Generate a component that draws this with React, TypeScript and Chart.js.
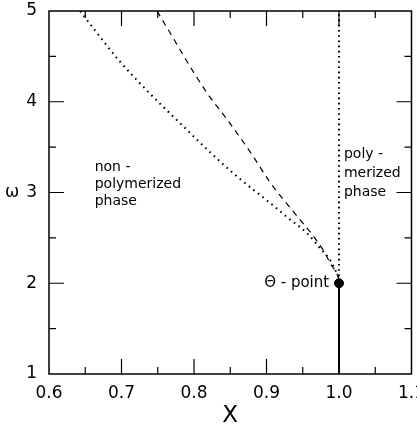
import React, { useEffect, useRef } from "react";
import { Chart, registerables } from "chart.js";

Chart.register(...registerables);

// ---- data ----
const xTicks = [0.6, 0.7, 0.8, 0.9, 1.0, 1.1];
const yTicks = [1, 2, 3, 4, 5];

// dotted boundary curve (x, omega)
const dottedX = [0.643, 0.666, 0.696, 0.738, 0.789, 0.82, 0.861, 0.898, 0.929, 0.956, 0.974, 0.988, 0.997, 1.0];
const dottedY = [5.0, 4.76, 4.46, 4.1, 3.7, 3.46, 3.165, 2.93, 2.725, 2.55, 2.385, 2.25, 2.11, 2.05];

// dashed curve
const dashedX = [0.749, 0.816, 0.847, 0.879, 0.906, 0.939, 0.966, 0.98, 0.988, 0.996, 1.0];
const dashedY = [5.0, 4.12, 3.79, 3.43, 3.1, 2.77, 2.505, 2.34, 2.22, 2.12, 2.05];

// vertical dotted phase boundary at x = 1
const vDotX = [1.0, 1.0];
const vDotY = [2.08, 5.0];

// solid line below theta point
const solidX = [1.0, 1.0];
const solidY = [1.0, 2.0];

// theta point
const thetaX = [1.0];
const thetaY = [2.0];

// annotation labels (data coordinates)
const labelTexts = ["non -", "polymerized", "phase", "poly -", "merized", "phase", "\u0398 - point"];
const labelX = [0.663, 0.663, 0.663, 1.0068, 1.0068, 1.0068, 0.9864];
const labelY = [3.275, 3.09, 2.9, 3.418, 3.21, 3.0, 2.0];
const labelAlign = ["left", "left", "left", "left", "left", "left", "right"];

const toPts = (xs: number[], ys: number[]) => xs.map((x, i) => ({ x, y: ys[i] }));

const FONT = "'DejaVu Sans', sans-serif";

const framePlugin = {
  id: "frameTicks",
  afterDraw(chart: any) {
    const { ctx, chartArea } = chart;
    const xs = chart.scales.x;
    const ys = chart.scales.y;
    const { left, right, top, bottom } = chartArea;
    ctx.save();
    ctx.strokeStyle = "#000";
    ctx.lineWidth = 1.5;
    ctx.strokeRect(left, top, right - left, bottom - top);
    ctx.lineWidth = 1.2;
    const major = 15;
    const minor = 7;
    for (let i = 0; i < xTicks.length; i++) {
      const vals: [number, number][] = [[xTicks[i], major]];
      if (i < xTicks.length - 1) vals.push([(xTicks[i] + xTicks[i + 1]) / 2, minor]);
      for (const [v, len] of vals) {
        const p = xs.getPixelForValue(v);
        if (p <= left + 1 || p >= right - 1) continue;
        ctx.beginPath();
        ctx.moveTo(p, bottom);
        ctx.lineTo(p, bottom - len);
        ctx.moveTo(p, top);
        ctx.lineTo(p, top + len);
        ctx.stroke();
      }
    }
    for (let i = 0; i < yTicks.length; i++) {
      const vals: [number, number][] = [[yTicks[i], major]];
      if (i < yTicks.length - 1) vals.push([(yTicks[i] + yTicks[i + 1]) / 2, minor]);
      for (const [v, len] of vals) {
        const p = ys.getPixelForValue(v);
        if (p <= top + 1 || p >= bottom - 1) continue;
        ctx.beginPath();
        ctx.moveTo(left, p);
        ctx.lineTo(left + len, p);
        ctx.moveTo(right, p);
        ctx.lineTo(right - len, p);
        ctx.stroke();
      }
    }
    ctx.fillStyle = "#000";
    ctx.textBaseline = "middle";
    ctx.font = `14px ${FONT}`;
    for (let i = 0; i < labelTexts.length; i++) {
      ctx.textAlign = labelAlign[i] as CanvasTextAlign;
      if (i === labelTexts.length - 1) ctx.font = `15px ${FONT}`;
      ctx.fillText(labelTexts[i], xs.getPixelForValue(labelX[i]), ys.getPixelForValue(labelY[i]));
    }
    ctx.textAlign = "center";
    ctx.font = `17px ${FONT}`;
    ctx.fillText("\u03c9", 12, (top + bottom) / 2);
    ctx.font = `23px ${FONT}`;
    ctx.fillText("X", (left + right) / 2, bottom + 42);
    ctx.restore();
  },
};

export default function App() {
  const ref = useRef<HTMLCanvasElement | null>(null);
  useEffect(() => {
    document.body.style.margin = "0";
    const canvas = ref.current;
    if (!canvas) return;
    const chart = new Chart(canvas, {
      type: "scatter",
      data: {
        datasets: [
          {
            data: toPts(dottedX, dottedY),
            showLine: true,
            borderColor: "#000",
            borderWidth: 2,
            borderDash: [1.6, 4.2],
            pointRadius: 0,
            cubicInterpolationMode: "monotone",
          },
          {
            data: toPts(dashedX, dashedY),
            showLine: true,
            borderColor: "#000",
            borderWidth: 1.2,
            borderDash: [6, 5],
            pointRadius: 0,
            cubicInterpolationMode: "monotone",
          },
          {
            data: toPts(vDotX, vDotY),
            showLine: true,
            borderColor: "#000",
            borderWidth: 2,
            borderDash: [1.6, 3.6],
            pointRadius: 0,
          },
          {
            data: toPts(solidX, solidY),
            showLine: true,
            borderColor: "#000",
            borderWidth: 2,
            pointRadius: 0,
          },
          {
            data: toPts(thetaX, thetaY),
            showLine: false,
            pointRadius: 4.5,
            pointBackgroundColor: "#000",
            pointBorderColor: "#000",
          },
        ],
      },
      options: {
        animation: false,
        responsive: false,
        events: [],
        layout: { padding: { top: 11, right: 3, left: 0, bottom: 0 } },
        plugins: { legend: { display: false }, tooltip: { enabled: false } },
        scales: {
          x: {
            type: "linear",
            min: 0.6,
            max: 1.1,
            grid: { display: false, drawTicks: false },
            border: { display: false },
            afterBuildTicks: (s: any) => {
              s.ticks = xTicks.map((v) => ({ value: v }));
            },
            afterFit: (s: any) => {
              s.height = 54;
              s.paddingLeft = 0;
              s.paddingRight = 0;
            },
            ticks: {
              autoSkip: false,
              maxRotation: 0,
              padding: 9,
              color: "#000",
              font: { family: FONT, size: 17 },
              callback: (v: any) => Number(v).toFixed(1),
            },
          },
          y: {
            type: "linear",
            min: 1,
            max: 5,
            grid: { display: false, drawTicks: false },
            border: { display: false },
            afterBuildTicks: (s: any) => {
              s.ticks = yTicks.map((v) => ({ value: v }));
            },
            afterFit: (s: any) => {
              s.width = 49;
              s.paddingTop = 0;
              s.paddingBottom = 0;
            },
            ticks: {
              autoSkip: false,
              padding: 12,
              color: "#000",
              font: { family: FONT, size: 17 },
              callback: (v: any) => String(v),
            },
          },
        },
      },
      plugins: [framePlugin],
    });
    return () => chart.destroy();
  }, []);
  return (
    <div style={{ width: 417, height: 428 }}>
      <canvas ref={ref} width={417} height={428} />
    </div>
  );
}
